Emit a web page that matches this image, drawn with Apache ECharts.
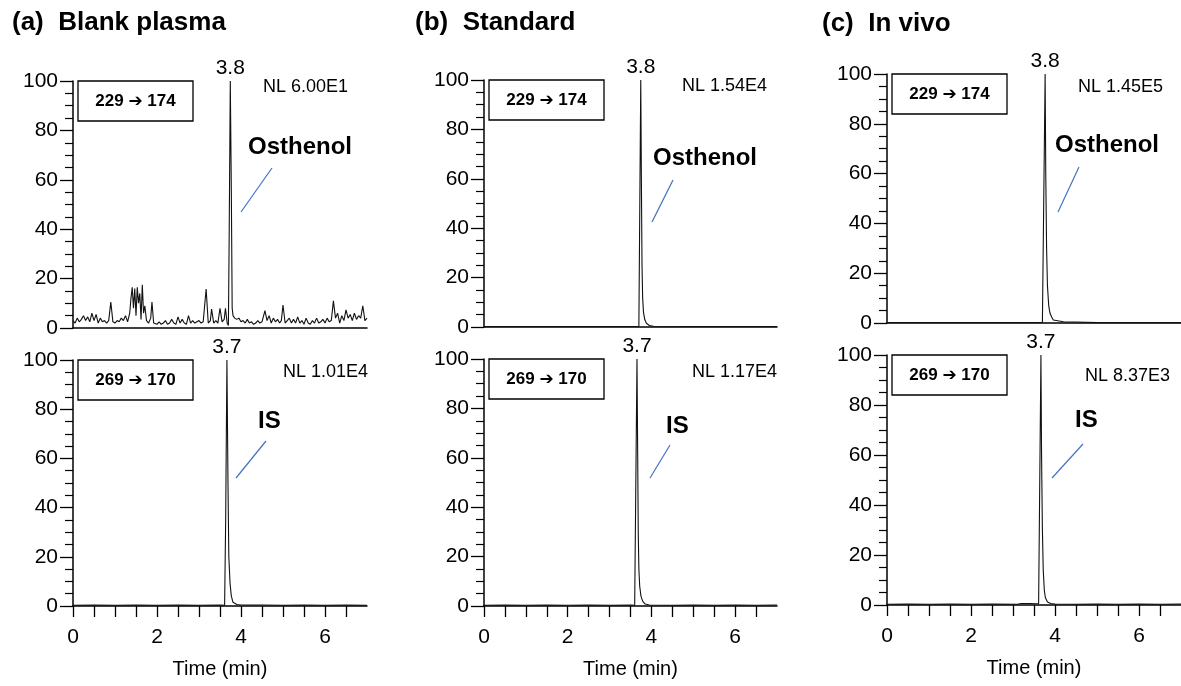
<!DOCTYPE html>
<html><head><meta charset="utf-8">
<script src="https://cdn.jsdelivr.net/npm/echarts@6/dist/echarts.min.js"></script>
<style>html,body{margin:0;padding:0;background:#fff}#c{width:1181px;height:686px}</style>
</head><body><div id="c"></div>
<script>
// ---------------- DATA ----------------
const panelTitles = ['(a)  Blank plasma', '(b)  Standard', '(c)  In vivo'];
const transitions = ['229 \u2794 174', '269 \u2794 170'];
const compoundNames = ['Osthenol', 'IS'];
const nlValues = [['NL 6.00E1', 'NL 1.01E4'], ['NL 1.54E4', 'NL 1.17E4'], ['NL 1.45E5', 'NL 8.37E3']];
const peakLabels = [['3.8', '3.7'], ['3.8', '3.7'], ['3.8', '3.7']];
const xTickValues = [0, 0.5, 1, 1.5, 2, 2.5, 3, 3.5, 4, 4.5, 5, 5.5, 6, 6.5];
const xLabelValues = [0, 2, 4, 6];
const xAxisName = 'Time (min)';

// (a) blank plasma, 229 -> 174 (time min, relative abundance %)
const blankOsthenol = [
 [0.00,3],[0.05,2],[0.10,4],[0.15,2.5],[0.20,3.5],[0.25,5],[0.30,3],[0.35,4.5],[0.40,2.5],[0.45,6],
 [0.50,3],[0.55,5.5],[0.60,2],[0.65,4],[0.70,2.5],[0.75,3],[0.80,2],[0.85,3],[0.90,10.5],[0.95,2.5],
 [1.00,2],[1.05,3],[1.10,2.5],[1.15,4],[1.20,3],[1.25,5],[1.30,2.5],[1.35,6],[1.38,12],[1.41,16.5],
 [1.44,8],[1.47,16],[1.50,5],[1.53,16.5],[1.56,10],[1.59,14],[1.62,3.5],[1.65,17.5],[1.68,6],[1.71,9],
 [1.75,3],[1.80,2],[1.85,4],[1.88,10.5],[1.92,2],[2.00,1.5],[2.05,2.5],[2.10,1.5],[2.15,2],[2.20,3],
 [2.25,1.5],[2.30,2],[2.35,3.5],[2.40,2],[2.45,1.5],[2.50,4.5],[2.55,2],[2.60,3.5],[2.65,2],[2.70,1.5],
 [2.75,5],[2.80,2],[2.85,3],[2.90,2],[2.95,2.5],[3.00,3],[3.05,2],[3.10,2.5],[3.17,15.8],[3.22,2],
 [3.27,3],[3.30,7.7],[3.35,2],[3.40,3],[3.45,2],[3.50,8],[3.55,2.5],[3.60,3.5],[3.63,8],[3.67,2],
 [3.70,1],[3.72,40],[3.745,100],[3.77,55],[3.79,8],[3.81,5],[3.85,4],[3.90,3.5],[3.95,4],[4.00,2.5],
 [4.05,3],[4.10,2],[4.15,3.5],[4.20,2],[4.25,2.5],[4.30,1.5],[4.35,2],[4.40,3],[4.45,2],[4.50,2.5],
 [4.57,7],[4.62,3],[4.67,5],[4.72,2],[4.77,4],[4.82,2.5],[4.87,3.5],[4.92,2],[4.96,3],[5.00,9.3],
 [5.05,2],[5.10,3],[5.15,4],[5.20,2],[5.25,3.5],[5.30,2],[5.35,4.5],[5.40,2],[5.45,3],[5.50,1.5],
 [5.55,4],[5.60,2],[5.65,1.5],[5.70,3],[5.75,2],[5.80,4],[5.85,2],[5.90,2.5],[5.95,3.5],[6.00,2],
 [6.05,4],[6.10,2.5],[6.15,3],[6.20,11],[6.25,4],[6.30,6],[6.35,2],[6.40,5],[6.45,3],[6.50,7.3],
 [6.55,4],[6.60,5.5],[6.65,3],[6.70,6],[6.75,3.5],[6.80,5],[6.85,4],[6.90,9],[6.95,3],[7.00,4]
];
// (a) blank plasma, 269 -> 170
const blankIS = [
 [0,0.3],[0.5,0.4],[1,0.3],[1.5,0.4],[2,0.3],[2.5,0.4],[3,0.3],[3.5,0.4],[3.61,0.3],
 [3.635,35],[3.665,100],[3.69,50],[3.71,20],[3.74,9],[3.77,4],[3.81,1.5],[3.9,0.6],[4.0,0.4],
 [4.5,0.4],[5,0.3],[5.5,0.4],[6,0.3],[6.5,0.4],[7,0.3]
];
// (b) standard
const stdOsthenol = [
 [0,0.2],[1,0.2],[2,0.2],[3,0.2],[3.70,0.2],[3.745,100],[3.76,60],[3.775,25],[3.79,12],[3.81,6],
 [3.84,3],[3.88,1.5],[3.95,0.6],[4.05,0.3],[5,0.2],[6,0.2],[7,0.2]
];
const stdIS = [
 [0,0.3],[0.5,0.4],[1,0.3],[1.5,0.4],[2,0.3],[2.5,0.4],[3,0.3],[3.5,0.4],[3.60,0.3],
 [3.655,100],[3.67,65],[3.685,30],[3.70,15],[3.72,8],[3.75,4],[3.79,2],[3.85,0.8],[3.95,0.4],
 [4.5,0.3],[5,0.4],[5.5,0.3],[6,0.4],[6.5,0.3],[7,0.4]
];
// (c) in vivo
const vivoOsthenol = [
 [0,0.2],[1,0.2],[2,0.2],[3,0.2],[3.70,0.2],[3.765,100],[3.78,60],[3.80,30],[3.82,15],[3.85,7],
 [3.88,4],[3.92,2.4],[3.96,1.2],[4.0,0.7],[4.2,0.5],[4.48,0.4],[4.5,0.15],[5,0.15],[6,0.15],[7,0.15]
];
const vivoIS = [
 [0,0.3],[0.5,0.4],[1,0.3],[1.5,0.4],[2,0.3],[2.5,0.4],[3.1,0.3],[3.2,0.6],[3.4,0.6],[3.55,0.5],
 [3.61,0.5],[3.665,100],[3.68,60],[3.70,30],[3.72,14],[3.745,6],[3.77,3],[3.82,1.2],[3.9,0.6],
 [4.0,0.4],[4.5,0.3],[5,0.4],[5.5,0.3],[6,0.4],[6.5,0.3],[7,0.4]
];
const traces = [[blankOsthenol, blankIS], [stdOsthenol, stdIS], [vivoOsthenol, vivoIS]];
const peakTimes = [[3.745, 3.665], [3.745, 3.655], [3.765, 3.665]];

// ---------------- LAYOUT ----------------
const layout = [
  {left: 73,  width: 294, rows: [{top: 81, h: 247}, {top: 360, h: 246}], title: [12, 23]},
  {left: 484, width: 293, rows: [{top: 80, h: 247}, {top: 359, h: 247}], title: [415, 23]},
  {left: 887, width: 296, rows: [{top: 74, h: 249}, {top: 355, h: 250}], title: [822, 24]}
];
// annotation placements (pixels): [nlLeft, nlY, nameLeft, nameY, lx1, ly1, lx2, ly2]
const annot = [
  [[263, 87, 248, 147, 241, 212, 272, 168], [283, 372, 258, 421, 236, 478, 266, 441]],
  [[682, 86, 653, 158, 652, 222, 673, 180], [692, 372, 666, 426, 650, 478, 670, 445]],
  [[1078, 87, 1055, 145, 1058, 212, 1079, 167], [1085, 376, 1075, 420, 1052, 478, 1083, 444]]
];

const SANS = "'Liberation Sans', Arial, 'DejaVu Sans', sans-serif";

const grids = [], xAxes = [], yAxes = [], series = [], graphics = [];
let gi = 0;
layout.forEach((p, pi) => {
  graphics.push({type: 'text', x: p.title[0], y: p.title[1],
    style: {text: panelTitles[pi], font: 'bold 26px ' + SANS, fill: '#000', textVerticalAlign: 'middle'}});
  p.rows.forEach((r, ri) => {
    const isBottom = ri === 1;
    grids.push({left: p.left, top: r.top, width: p.width, height: r.h, containLabel: false});
    xAxes.push({
      type: 'value', gridIndex: gi, min: 0, max: 7,
      axisLine: {show: true, lineStyle: {color: '#000', width: 1.5}},
      axisTick: {show: isBottom, customValues: xTickValues, length: 11, lineStyle: {color: '#000', width: 1.3}},
      axisLabel: {show: isBottom, customValues: xLabelValues, margin: 21, color: '#000', fontSize: 21, fontFamily: SANS},
      splitLine: {show: false},
      name: isBottom ? xAxisName : '', nameLocation: 'middle', nameGap: 53,
      nameTextStyle: {color: '#000', fontSize: 20, fontFamily: SANS}
    });
    yAxes.push({
      type: 'value', gridIndex: gi, min: 0, max: 100, interval: 20,
      axisLine: {show: true, lineStyle: {color: '#000', width: 1.5}},
      axisTick: {show: true, length: 13, lineStyle: {color: '#000', width: 1.3}},
      minorTick: {show: true, splitNumber: 4, length: 8, lineStyle: {color: '#000', width: 1.2}},
      axisLabel: {margin: 15, color: '#000', fontSize: 21, fontFamily: SANS},
      splitLine: {show: false}
    });
    series.push({
      type: 'line', xAxisIndex: gi, yAxisIndex: gi, data: traces[pi][ri],
      showSymbol: false, symbol: 'none', animation: false,
      lineStyle: {color: '#111', width: 1.1},
      markPoint: {
        symbol: 'circle', symbolSize: 1, itemStyle: {color: 'rgba(0,0,0,0)'},
        label: {show: true, position: 'top', distance: 2, color: '#000', fontSize: 21, fontFamily: SANS,
                formatter: peakLabels[pi][ri]},
        data: [{coord: [peakTimes[pi][ri], 100]}]
      }
    });
    // transition box
    const bx = p.left + 5, by = r.top;
    graphics.push({type: 'rect', shape: {x: bx, y: by, width: 115, height: 40},
      style: {fill: '#fff', stroke: '#000', lineWidth: 1.3}, z: 10});
    graphics.push({type: 'text', x: bx + 57.5, y: by + 20, z: 11,
      style: {text: transitions[ri], font: 'bold 17px ' + SANS, fill: '#000', textAlign: 'center', textVerticalAlign: 'middle'}});
    const a = annot[pi][ri];
    graphics.push({type: 'text', x: a[0], y: a[1], z: 11,
      style: {text: nlValues[pi][ri], font: '18px ' + SANS, fill: '#000', textVerticalAlign: 'middle'}});
    graphics.push({type: 'text', x: a[2], y: a[3], z: 11,
      style: {text: compoundNames[ri], font: 'bold 24px ' + SANS, fill: '#000', textVerticalAlign: 'middle'}});
    graphics.push({type: 'line', shape: {x1: a[4], y1: a[5], x2: a[6], y2: a[7]}, z: 11,
      style: {stroke: '#4472C4', lineWidth: 1.2}});
    gi++;
  });
});

const chart = echarts.init(document.getElementById('c'), null, {renderer: 'canvas'});
chart.setOption({
  animation: false, backgroundColor: '#fff',
  grid: grids, xAxis: xAxes, yAxis: yAxes, series: series, graphic: graphics
});
</script></body></html>
